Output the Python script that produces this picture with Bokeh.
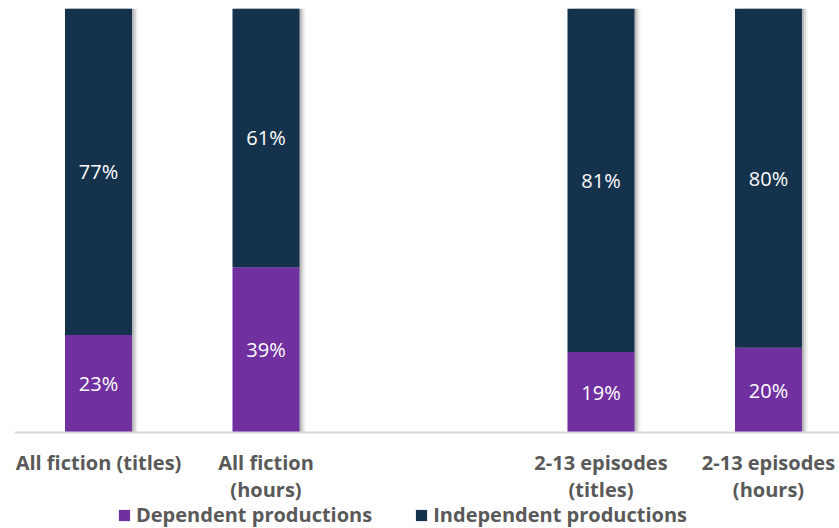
from bokeh.plotting import figure
from bokeh.models import (ColumnDataSource, Range1d, Legend, LegendItem, LabelSet, Span)
from bokeh.core.properties import value
from bokeh.transform import dodge
from bokeh.embed import file_html
from bokeh.resources import INLINE

# ---- data ----
positions = [0, 1, 3, 4]          # slot 2 is an empty gap in the original chart
categories = ["All fiction (titles)", "All fiction\n(hours)",
              "2-13 episodes\n(titles)", "2-13 episodes\n(hours)"]
dependent = [23, 39, 19, 20]
independent = [77, 61, 81, 80]
series_names = ["Dependent productions", "Independent productions"]

PURPLE = "#7030A0"
NAVY = "#15324D"
GREY_TXT = "#595959"

# layout: 424 px of plot height for 0..100 %, 96 px below the baseline for labels/legend
PLOT_PX, BELOW_PX = 424, 96

src = ColumnDataSource(dict(
    x=positions,
    base=[0] * len(positions),
    cat=categories,
    dep_top=dependent,
    ind_top=[d + i for d, i in zip(dependent, independent)],
    dep_mid=[d / 2 for d in dependent],
    ind_mid=[d + i / 2 for d, i in zip(dependent, independent)],
    dep_lbl=[f"{v}%" for v in dependent],
    ind_lbl=[f"{v}%" for v in independent],
))

p = figure(frame_width=825, frame_height=PLOT_PX + BELOW_PX, output_backend="svg",
           toolbar_location=None, x_axis_location=None, y_axis_location=None,
           x_range=Range1d(-0.5015, 4.424),
           y_range=Range1d(-100 * BELOW_PX / PLOT_PX, 100),
           min_border_left=14, min_border_right=0, min_border_top=8, min_border_bottom=0)
p.outline_line_color = None
p.grid.visible = False

# soft shadows to the right of the bars
for off, a in [(0.012, 0.25), (0.024, 0.16), (0.036, 0.08)]:
    p.vbar(x=dodge("x", off, range=p.x_range), bottom=0, top="ind_top", width=0.4,
           source=src, fill_color="#555555", fill_alpha=a, line_color=None)

r_dep = p.vbar(x="x", bottom=0, top="dep_top", width=0.4, source=src,
               fill_color=PURPLE, line_color=None)
r_ind = p.vbar(x="x", bottom="dep_top", top="ind_top", width=0.4, source=src,
               fill_color=NAVY, line_color=None)

# baseline (category axis line)
p.add_layout(Span(location=0, dimension="width", line_color="#D9D9D9", line_width=2))

# category labels under the baseline
p.text(x="x", y="base", text="cat", source=src, y_offset=16,
       text_font=value("Open Sans"), text_font_style="bold", text_font_size="20px",
       text_color=GREY_TXT, text_align="center", text_baseline="top",
       text_line_height=1.0)

for ycol, tcol in [("dep_mid", "dep_lbl"), ("ind_mid", "ind_lbl")]:
    p.add_layout(LabelSet(x="x", y=ycol, text=tcol, source=src,
                          text_color="white", text_font=value("Open Sans"),
                          text_font_size="20px", text_align="center",
                          text_baseline="middle"))

legend = Legend(items=[LegendItem(label=series_names[0], renderers=[r_dep]),
                       LegendItem(label=series_names[1], renderers=[r_ind])],
                orientation="horizontal", location=(103, 0),
                border_line_color=None, background_fill_alpha=0,
                padding=0, margin=0, spacing=42, label_standoff=5,
                glyph_width=14, glyph_height=14,
                label_text_font="Open Sans", label_text_font_style="bold",
                label_text_font_size="20px", label_text_color=GREY_TXT)
p.add_layout(legend, "center")

open("out.html", "w").write(file_html(p, INLINE))
